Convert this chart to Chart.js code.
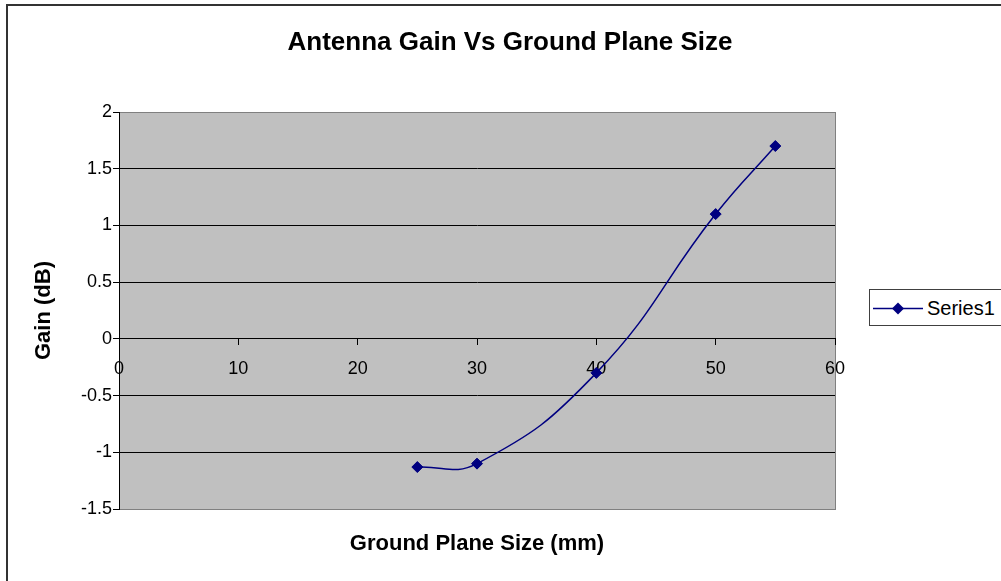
<!DOCTYPE html>
<html>
<head>
<meta charset="utf-8">
<script src="https://cdn.jsdelivr.net/npm/chart.js@4/dist/chart.umd.min.js"></script>
<style>
  html, body { margin: 0; padding: 0; background: #fff; }
  #wrap { position: relative; width: 1001px; height: 581px; overflow: hidden; }
  #legendBox {
    position: absolute; left: 869px; top: 289px; width: 140px; height: 35px;
    border: 1px solid #404040; background: #fff;
    font: 20px 'Liberation Sans', Arial, sans-serif; color: #000;
  }
  #legendBox svg { position: absolute; left: 3px; top: 0; }
  #legendBox span { position: absolute; left: 57px; top: 6px; line-height: 24px; }
</style>
</head>
<body>
<div id="wrap">
  <canvas id="gainChart" width="1001" height="581"></canvas>
  <div id="legendBox">
    <svg width="52" height="35"><line x1="0" y1="18.5" x2="50" y2="18.5" stroke="#000080" stroke-width="1.5"/><path d="M25 12.5 L31 18.5 L25 24.5 L19 18.5 Z" fill="#000080"/></svg>
    <span>Series1</span>
  </div>
</div>
<script>
/* chart data */
const TITLE   = 'Antenna Gain Vs Ground Plane Size';
const X_TITLE = 'Ground Plane Size (mm)';
const Y_TITLE = 'Gain (dB)';
const SERIES  = 'Series1';
const sizes = [25, 30, 40, 50, 55];              // ground plane size, mm
const gains = [-1.13, -1.1, -0.3, 1.1, 1.7];     // gain, dB
const X_MIN = 0,    X_MAX = 60, X_STEP = 10;
const Y_MIN = -1.5, Y_MAX = 2,  Y_STEP = 0.5;

const FONT = "'Liberation Sans', Arial, sans-serif";
const NAVY = '#000080';

// grey plot area + outer frame, Excel style
const plotBg = {
  id: 'plotBg',
  beforeDraw(chart){
    const {ctx, chartArea: a} = chart;
    ctx.save();
    ctx.lineWidth = 2;
    ctx.strokeStyle = '#333';
    ctx.strokeRect(7, 5, 2000, 2000);
    ctx.fillStyle = '#c0c0c0';
    ctx.fillRect(a.left, a.top, a.right - a.left, a.bottom - a.top);
    ctx.lineWidth = 1;
    ctx.strokeStyle = '#808080';
    ctx.strokeRect(a.left + 0.5, a.top + 0.5, a.right - a.left, a.bottom - a.top);
    ctx.restore();
  }
};

// Excel prints 2, 1, -1 rather than 2.0, 1.0, -1.0
const plainNum = v => String(Math.round(v * 100) / 100);

new Chart(document.getElementById('gainChart'), {
  type: 'line',
  data: {
    datasets: [{
      label: SERIES,
      data: sizes.map((x, i) => ({ x, y: gains[i] })),
      borderColor: NAVY, backgroundColor: NAVY,
      borderWidth: 1.5, tension: 0.45,
      pointStyle: 'rectRot', pointRadius: 5.5, pointBorderWidth: 1,
      pointBackgroundColor: NAVY, pointBorderColor: NAVY,
      xAxisID: 'x', yAxisID: 'y',
    }]
  },
  options: {
    responsive: false, animation: false, devicePixelRatio: 1,
    layout: { padding: { left: 19, right: 0, top: 0, bottom: 0 } },
    plugins: {
      legend: { display: false },
      tooltip: { enabled: false },
      title: {
        display: true, text: TITLE, color: '#000',
        font: { family: FONT, size: 26, weight: 'bold', lineHeight: 1.2 },
        padding: { top: 27.4, bottom: 53.4 },
      },
    },
    scales: {
      x: {
        type: 'linear', position: { y: 0 }, min: X_MIN, max: X_MAX,
        grid: { drawOnChartArea: false, drawTicks: true, tickLength: 6, color: '#000' },
        border: { display: true, color: '#000', width: 1 },
        ticks: { stepSize: X_STEP, color: '#000', padding: 13, maxRotation: 0,
                 callback: plainNum, font: { family: FONT, size: 18 } },
      },
      y: {
        type: 'linear', position: 'left', min: Y_MIN, max: Y_MAX,
        afterFit: s => { s.width = 100; },
        grid: {
          color: c => (c.tick && (c.tick.value === Y_MAX || c.tick.value === Y_MIN)) ? '#808080' : '#000',
          tickColor: '#000', tickLength: 6, lineWidth: 1,
        },
        border: { display: true, color: '#000', width: 1 },
        ticks: { stepSize: Y_STEP, color: '#000', padding: 1,
                 callback: plainNum, font: { family: FONT, size: 18 } },
        title: { display: true, text: Y_TITLE, color: '#000',
                 font: { family: FONT, size: 22, weight: 'bold', lineHeight: 1.2 },
                 padding: { top: 11.8, bottom: 0 } },
      },
      // empty scales only used to reserve space / carry the x title
      x2: {
        type: 'linear', position: 'bottom',
        afterFit: s => { s.height = 72; },
        grid: { display: false }, border: { display: false },
        ticks: { display: false },
        title: { display: true, text: X_TITLE, color: '#000',
                 font: { family: FONT, size: 22, weight: 'bold', lineHeight: 1.2 },
                 padding: { top: 0, bottom: 23.8 } },
      },
      y2: {
        type: 'linear', position: 'right',
        afterFit: s => { s.width = 166; },
        grid: { display: false }, border: { display: false },
        ticks: { display: false },
      },
    }
  },
  plugins: [plotBg]
});
</script>
</body>
</html>
